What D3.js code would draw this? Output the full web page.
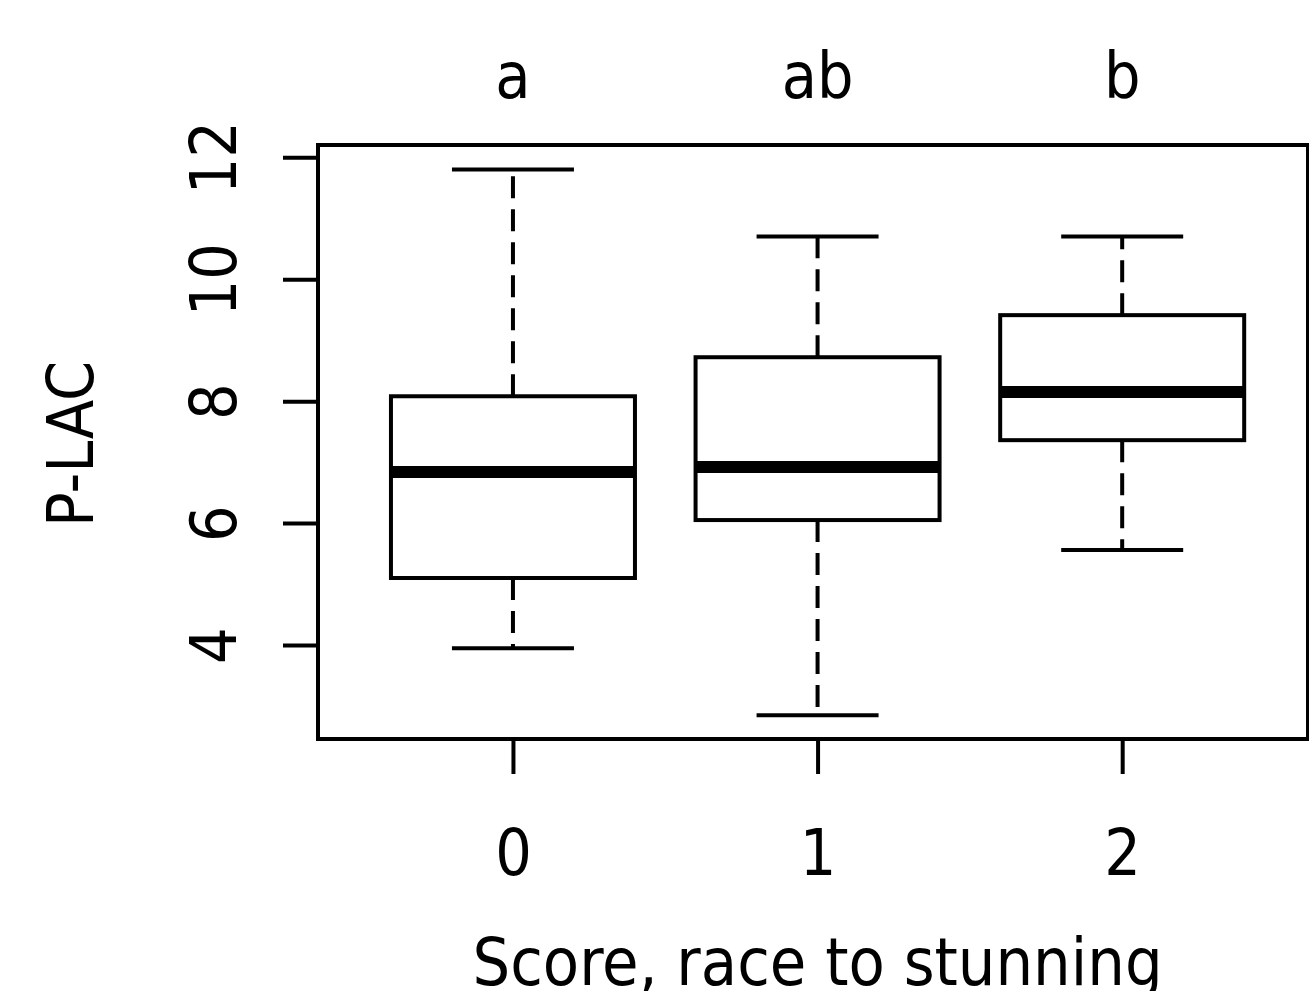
<!DOCTYPE html>
<html>
<head>
<meta charset="utf-8">
<script src="https://cdn.jsdelivr.net/npm/d3@7"></script>
<style>
  body { margin: 0; background: #fff; }
  svg text { font-family: "Liberation Sans Narrow", "DejaVu Sans Condensed", sans-serif; fill: #000; }
</style>
</head>
<body>
<div id="chart"></div>
<script>
var width = 1309;
var height = 991;

// data
var categories = ["0", "1", "2"];
var letters = ["a", "ab", "b"];
var whiskerLow = [3.95, 2.85, 5.56];
var q1 = [5.10, 6.05, 7.36];
var median = [6.84, 6.92, 8.15];
var q3 = [8.08, 8.72, 9.41];
var whiskerHigh = [11.80, 10.70, 10.70];
var yTicks = [4, 6, 8, 10, 12];

var boxes = categories.map(function(c, i) {
    return { cat: c, letter: letters[i], lo: whiskerLow[i], q1: q1[i], med: median[i], q3: q3[i], hi: whiskerHigh[i] };
});

var plot = { left: 318, top: 145, right: 1308, bottom: 739 };

var svg = d3.select("#chart")
    .append("svg")
      .attr("width", width)
      .attr("height", height);

var x = d3.scaleLinear()
    .domain([-0.64, 2.61])
    .range([plot.left, plot.right]);

var y = d3.scaleLinear()
    .domain([2.46, 12.2])
    .range([plot.bottom, plot.top]);

var boxHalf = 122;
var capHalf = 61;

// frame
svg.append("rect")
    .attr("x", plot.left)
    .attr("y", plot.top)
    .attr("width", plot.right - plot.left)
    .attr("height", plot.bottom - plot.top)
    .attr("fill", "none")
    .attr("stroke", "#000")
    .attr("stroke-width", 4);

// y axis
var yAxis = svg.append("g")
    .attr("transform", "translate(" + plot.left + ",0)")
    .call(d3.axisLeft(y).tickValues(yTicks).tickSize(35).tickPadding(0).tickFormat(d3.format("d")));
yAxis.select(".domain").remove();
yAxis.selectAll(".tick line").attr("stroke", "#000").attr("stroke-width", 4);
yAxis.selectAll(".tick text")
    .attr("x", null).attr("dy", null)
    .attr("text-anchor", "middle")
    .attr("font-size", 64)
    .attr("transform", "translate(-100,0) rotate(-90)")
    .attr("dominant-baseline", "middle");

// x axis
var xAxis = svg.append("g")
    .attr("transform", "translate(0," + plot.bottom + ")")
    .call(d3.axisBottom(x).tickValues([0, 1, 2]).tickSize(35).tickPadding(0).tickFormat(function(d, i) { return categories[i]; }));
xAxis.select(".domain").remove();
xAxis.selectAll(".tick line").attr("stroke", "#000").attr("stroke-width", 4);
xAxis.selectAll(".tick text")
    .attr("y", 136).attr("dy", null)
    .attr("font-size", 64);

// whiskers
var g = svg.append("g").selectAll("g")
    .data(boxes)
    .enter().append("g");

g.append("line")
    .attr("x1", function(d, i) { return x(i); })
    .attr("x2", function(d, i) { return x(i); })
    .attr("y1", function(d) { return y(d.q3); })
    .attr("y2", function(d) { return y(d.hi); })
    .attr("stroke", "#000").attr("stroke-width", 4).attr("stroke-dasharray", "22,11");

g.append("line")
    .attr("x1", function(d, i) { return x(i); })
    .attr("x2", function(d, i) { return x(i); })
    .attr("y1", function(d) { return y(d.q1); })
    .attr("y2", function(d) { return y(d.lo); })
    .attr("stroke", "#000").attr("stroke-width", 4).attr("stroke-dasharray", "22,11");

g.append("line")
    .attr("x1", function(d, i) { return x(i) - capHalf; })
    .attr("x2", function(d, i) { return x(i) + capHalf; })
    .attr("y1", function(d) { return y(d.hi); })
    .attr("y2", function(d) { return y(d.hi); })
    .attr("stroke", "#000").attr("stroke-width", 4);

g.append("line")
    .attr("x1", function(d, i) { return x(i) - capHalf; })
    .attr("x2", function(d, i) { return x(i) + capHalf; })
    .attr("y1", function(d) { return y(d.lo); })
    .attr("y2", function(d) { return y(d.lo); })
    .attr("stroke", "#000").attr("stroke-width", 4);

// boxes
g.append("rect")
    .attr("x", function(d, i) { return x(i) - boxHalf; })
    .attr("y", function(d) { return y(d.q3); })
    .attr("width", boxHalf * 2)
    .attr("height", function(d) { return y(d.q1) - y(d.q3); })
    .attr("fill", "#fff")
    .attr("stroke", "#000")
    .attr("stroke-width", 4);

g.append("line")
    .attr("x1", function(d, i) { return x(i) - boxHalf; })
    .attr("x2", function(d, i) { return x(i) + boxHalf; })
    .attr("y1", function(d) { return y(d.med); })
    .attr("y2", function(d) { return y(d.med); })
    .attr("stroke", "#000").attr("stroke-width", 12);

// significance letters
g.append("text")
    .attr("x", function(d, i) { return x(i); })
    .attr("y", 98)
    .attr("text-anchor", "middle")
    .attr("font-size", 64)
    .text(function(d) { return d.letter; });

// axis titles
svg.append("text")
    .attr("x", (x(0) + x(2)) / 2)
    .attr("y", 985)
    .attr("text-anchor", "middle")
    .attr("font-size", 66)
    .text("Score, race to stunning");

svg.append("text")
    .attr("transform", "translate(93," + (y(7.3)) + ") rotate(-90)")
    .attr("text-anchor", "middle")
    .attr("font-size", 64)
    .text("P-LAC");
</script>
</body>
</html>
